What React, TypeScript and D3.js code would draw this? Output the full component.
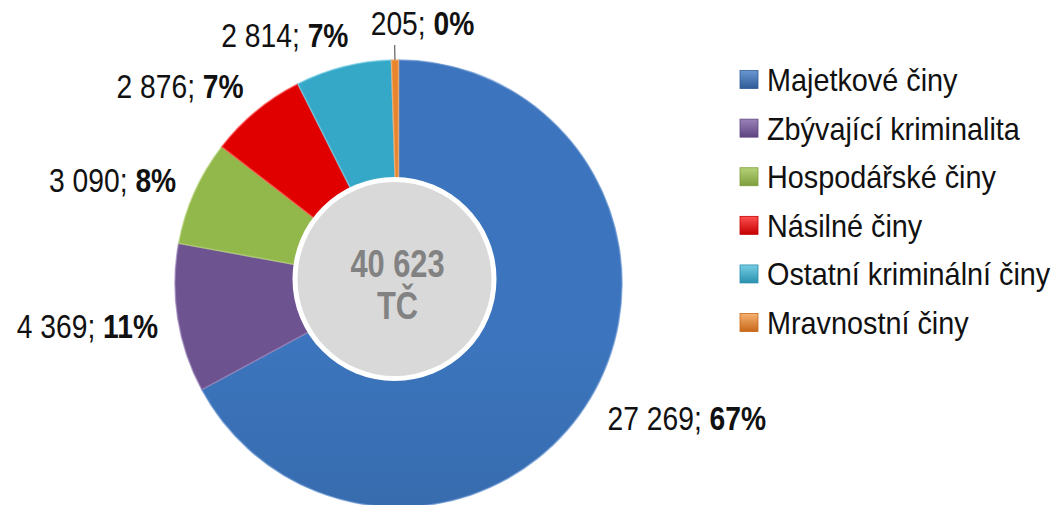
import React from "react";
import * as d3 from "d3";

const categories = [
  "Majetkové činy",
  "Zbývající kriminalita",
  "Hospodářské činy",
  "Násilné činy",
  "Ostatní kriminální činy",
  "Mravnostní činy",
];
const values = [27269, 4369, 3090, 2876, 2814, 205];
const percentLabels = ["67%", "11%", "8%", "7%", "7%", "0%"];
const centerLines = ["40 623", "TČ"];

const colorsTop = ["#3c75bd", "#6e5391", "#92b74a", "#e00000", "#35a8c8", "#e8842c"];
const colorsBottom = ["#2f5c96", "#5f4580", "#7e9d3c", "#c40000", "#2990ad", "#c66818"];
const colorsEdge = ["#6a96d2", "#9a82b8", "#b5d377", "#ff5050", "#76cde4", "#f7b070"];

const W = 1055;
const H = 505;
const cx = 398.5;
const cy = 283.5;
const R = 223.5;

const FONT = "'Liberation Sans', Arial, sans-serif";

export default function App() {
  const total = d3.sum(values);
  const pie = d3
    .pie<number>()
    .sort(null)
    .value((d) => d)
    .startAngle(0)
    .endAngle(2 * Math.PI);
  const arcs = pie(values);
  const arcGen = d3.arc<d3.PieArcDatum<number>>().innerRadius(0).outerRadius(R);
  const fmt = (v: number) => d3.format(",")(v).replace(/,/g, " ");

  const labelFS = 34;
  const labelSX = 0.83;
  const legendFS = 32;
  const legendSX = 0.9;

  const legendX = 740;
  const legendY0 = 91; // first baseline
  const legendStep = 48.6;
  const sq = 18;

  return (
    <svg
      width={W}
      height={H}
      style={{ position: "absolute", left: 0, top: 0, background: "#fff" }}
    >
      <defs>
        {categories.map((c, i) => (
          <linearGradient
            key={c}
            id={`g${i}`}
            gradientUnits="userSpaceOnUse"
            x1={0}
            y1={cy - R}
            x2={0}
            y2={cy + R}
          >
            <stop offset="0%" stopColor={colorsTop[i]} />
            <stop offset="100%" stopColor={colorsBottom[i]} />
          </linearGradient>
        ))}
        {categories.map((c, i) => (
          <linearGradient key={c + "l"} id={`lg${i}`} x1="0" y1="0" x2="0" y2="1">
            <stop offset="0%" stopColor={colorsEdge[i]} />
            <stop offset="100%" stopColor={colorsBottom[i]} />
          </linearGradient>
        ))}
      </defs>

      <g transform={`translate(${cx},${cy})`}>
        {arcs.map((a, i) => (
          <path
            key={categories[i]}
            d={arcGen(a) || ""}
            fill={`url(#g${i})`}
            stroke={colorsEdge[i]}
            strokeOpacity={0.7}
            strokeWidth={1.5}
            strokeLinejoin="round"
          />
        ))}
      </g>

      {/* labels */}
      {arcs.map((a, i) => {
        const mid = (a.startAngle + a.endAngle) / 2;
        const s = Math.sin(mid);
        const c = Math.cos(mid);
        const small = values[i] / total < 0.02;
        const text = (
          <>
            <tspan>{fmt(values[i])}; </tspan>
            <tspan fontWeight="bold">{percentLabels[i]}</tspan>
          </>
        );
        if (small) {
          const r1 = R;
          const r2 = R + 15;
          const x1 = cx + s * r1;
          const y1 = cy - c * r1;
          const x2 = cx + s * r2;
          const y2 = cy - c * r2;
          return (
            <g key={categories[i]}>
              <line x1={x1} y1={y1} x2={x2} y2={y2} stroke="#404040" strokeWidth={1} />
              <text
                transform={`translate(${x2 - 24},${y2 - 10}) scale(${labelSX},1)`}
                fontFamily={FONT}
                fontSize={labelFS}
                fill="#111"
                textAnchor="start"
              >
                {text}
              </text>
            </g>
          );
        }
        const rl = R + 20;
        const px = cx + s * rl + (Math.abs(s) < 0.4 ? -Math.sign(s) * 10 : 0);
        const py = cy - c * rl;
        const centerY = py + 2 - 15 * c;
        const baseY = centerY + 0.358 * labelFS;
        return (
          <text
            key={categories[i]}
            transform={`translate(${px},${baseY}) scale(${labelSX},1)`}
            fontFamily={FONT}
            fontSize={labelFS}
            fill="#111"
            textAnchor={s >= 0 ? "start" : "end"}
          >
            {text}
          </text>
        );
      })}

      {/* center circle */}
      <circle cx={cx - 4} cy={cy - 4.5} r={102} fill="#ffffff" />
      <circle cx={cx - 4} cy={cy - 4.5} r={97} fill="#d9d9d9" />
      {centerLines.map((t, i) => (
        <text
          key={t}
          transform={`translate(${cx - 1},${276.7 + i * 42}) scale(0.79,1)`}
          fontFamily={FONT}
          fontSize={39}
          fontWeight="bold"
          fill="#828282"
          textAnchor="middle"
        >
          {t}
        </text>
      ))}

      {/* legend */}
      {categories.map((c, i) => {
        const by = legendY0 + i * legendStep;
        const sy = by - 0.358 * legendFS - sq / 2;
        return (
          <g key={c}>
            <rect
              x={legendX}
              y={sy}
              width={sq}
              height={sq}
              fill={`url(#lg${i})`}
              stroke={colorsBottom[i]}
              strokeWidth={0.8}
            />
            <text
              transform={`translate(${legendX + 27},${by}) scale(${legendSX},1)`}
              fontFamily={FONT}
              fontSize={legendFS}
              fill="#111"
            >
              {c}
            </text>
          </g>
        );
      })}
    </svg>
  );
}
